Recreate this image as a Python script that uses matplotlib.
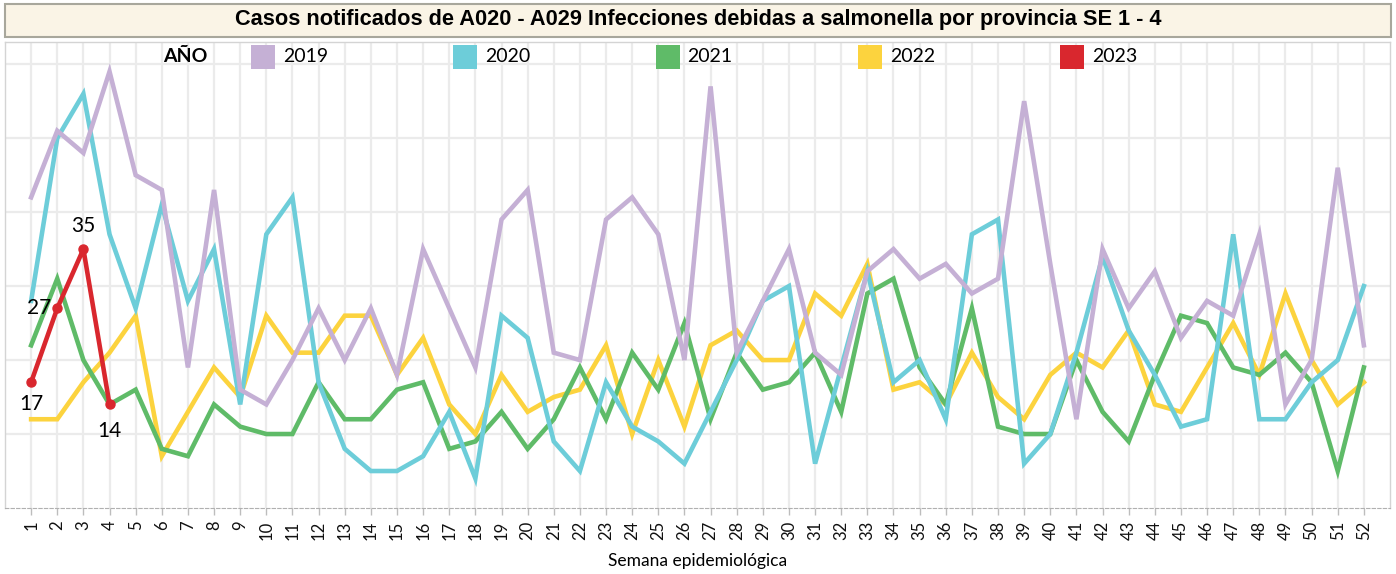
import matplotlib
matplotlib.use("Agg")
from matplotlib import pyplot as plt
from matplotlib.patches import Rectangle
import numpy as np

plt.rcParams['font.family'] = ['Lato', 'DejaVu Sans']

## DATA ##
weeks = np.arange(1, 53)
years = ["2019", "2020", "2021", "2022", "2023"]
colors = ["#c5b0d5", "#6dcdd9", "#5fbb68", "#fcd33e", "#d9272e"]

cases_2019 = [42, 51, 48, 59, 45, 43, 19, 43, 16, 14, 20, 27, 20, 27, 18, 35, 27, 19,
              39, 43, 21, 20, 39, 42, 37, 20, 57, 21, 28, 35, 21, 18, 32, 35, 31, 33,
              29, 31, 55, 33, 12, 35, 27, 32, 23, 28, 26, 37, 14, 20, 46, 22]
cases_2020 = [28, 50, 56, 37, 27, 41, 28, 35, 14, 37, 42, 17, 8, 5, 5, 7, 13, 4,
              26, 23, 9, 5, 17, 11, 9, 6, 13, 20, 28, 30, 6, 19, 32, 17, 20, 12,
              37, 39, 6, 10, 21, 34, 24, 18, 11, 12, 37, 12, 12, 17, 20, 30]
cases_2021 = [22, 31, 20, 14, 16, 8, 7, 14, 11, 10, 10, 17, 12, 12, 16, 17, 8, 9,
              13, 8, 12, 19, 12, 21, 16, 25, 12, 21, 16, 17, 21, 13, 29, 31, 19, 14,
              27, 11, 10, 10, 20, 13, 9, 18, 26, 25, 19, 18, 21, 17, 5, 19]
cases_2022 = [12, 12, 17, 21, 26, 7, 13, 19, 15, 26, 21, 21, 26, 26, 18, 23, 14, 10,
              18, 13, 15, 16, 22, 10, 20, 11, 22, 24, 20, 20, 29, 26, 33, 16, 17, 14,
              21, 15, 12, 18, 21, 19, 24, 14, 13, 19, 25, 18, 29, 20, 14, 17]
cases_2023 = [17, 27, 35, 14]

series = [cases_2019, cases_2020, cases_2021, cases_2022, cases_2023]
zorders = [4, 3, 2, 1, 5]

## PLOT ##
W, H = 1396, 574
fig = plt.figure(figsize=(W / 100, H / 100), dpi=100)
ax = fig.add_axes([5 / W, 1 - 508 / H, 1385 / W, 466 / H])

for vals, c, z in zip(series, colors, zorders):
    x = weeks[:len(vals)]
    if len(vals) < 10:
        ax.plot(x, vals, color=c, lw=3.3, zorder=z + 2, marker='o', ms=6.5,
                solid_capstyle='round')
    else:
        ax.plot(x, vals, color=c, lw=3.3, zorder=z + 2, solid_joinstyle='miter')

# data labels for the current year
label_offsets = [(0, -16, 'center'), (-4, 0, 'right'), (0, 17, 'center'), (0, -19, 'center')]
for w, v, (dx, dy, ha) in zip(weeks, cases_2023, label_offsets):
    ax.annotate(str(v), (w, v), xytext=(dx, dy), textcoords='offset points',
                ha=ha, va='center', fontsize=15, color='black', zorder=10)

ax.set_xlim(0, 53)
ax.set_ylim(0, 63)
ax.set_xticks(weeks)
ax.set_xticklabels([str(w) for w in weeks], rotation=90, fontsize=12)
ax.set_yticks([10, 20, 30, 40, 50, 60])
ax.tick_params(axis='y', length=0, labelleft=False)
ax.tick_params(axis='x', length=5, width=1, color='#bdbdbd', pad=4, labelcolor='#111111')
ax.grid(True, color='#ebebeb', lw=1.6, zorder=0)
ax.set_axisbelow(True)
for side in ['left', 'right', 'top']:
    ax.spines[side].set_color('#d4d4d4')
    ax.spines[side].set_linewidth(1)
ax.spines['bottom'].set_color('#b0b0b0')
ax.spines['bottom'].set_linestyle((0, (3, 2)))

# title box
fig.patches.append(Rectangle((5 / W, 1 - 37 / H), 1386 / W, 33 / H, transform=fig.transFigure,
                             facecolor='#faf4e6', edgecolor='#a8a79c', lw=1.5, zorder=0))
fig.text(698 / W, 1 - 20 / H, "Casos notificados de A020 - A029 Infecciones debidas a salmonella por provincia SE 1 - 4",
         ha='center', va='center', fontsize=15.7, fontweight='bold', family='Liberation Sans')

# legend
fig.text(185 / W, 1 - 57 / H, "AÑO", ha='center', va='center', fontsize=14, fontweight='bold')
for i, (yr, c) in enumerate(zip(years, colors)):
    x0 = 251 + i * 202.3
    fig.patches.append(Rectangle((x0 / W, 1 - 69 / H), 24 / W, 24 / H,
                                 transform=fig.transFigure, facecolor=c, edgecolor='none'))
    fig.text((x0 + 32) / W, 1 - 57 / H, yr, ha='left', va='center', fontsize=14)

fig.text(698 / W, 1 - 561 / H, "Semana epidemiológica", ha='center', va='center', fontsize=12.5)

fig.savefig("out.png", dpi=100)
